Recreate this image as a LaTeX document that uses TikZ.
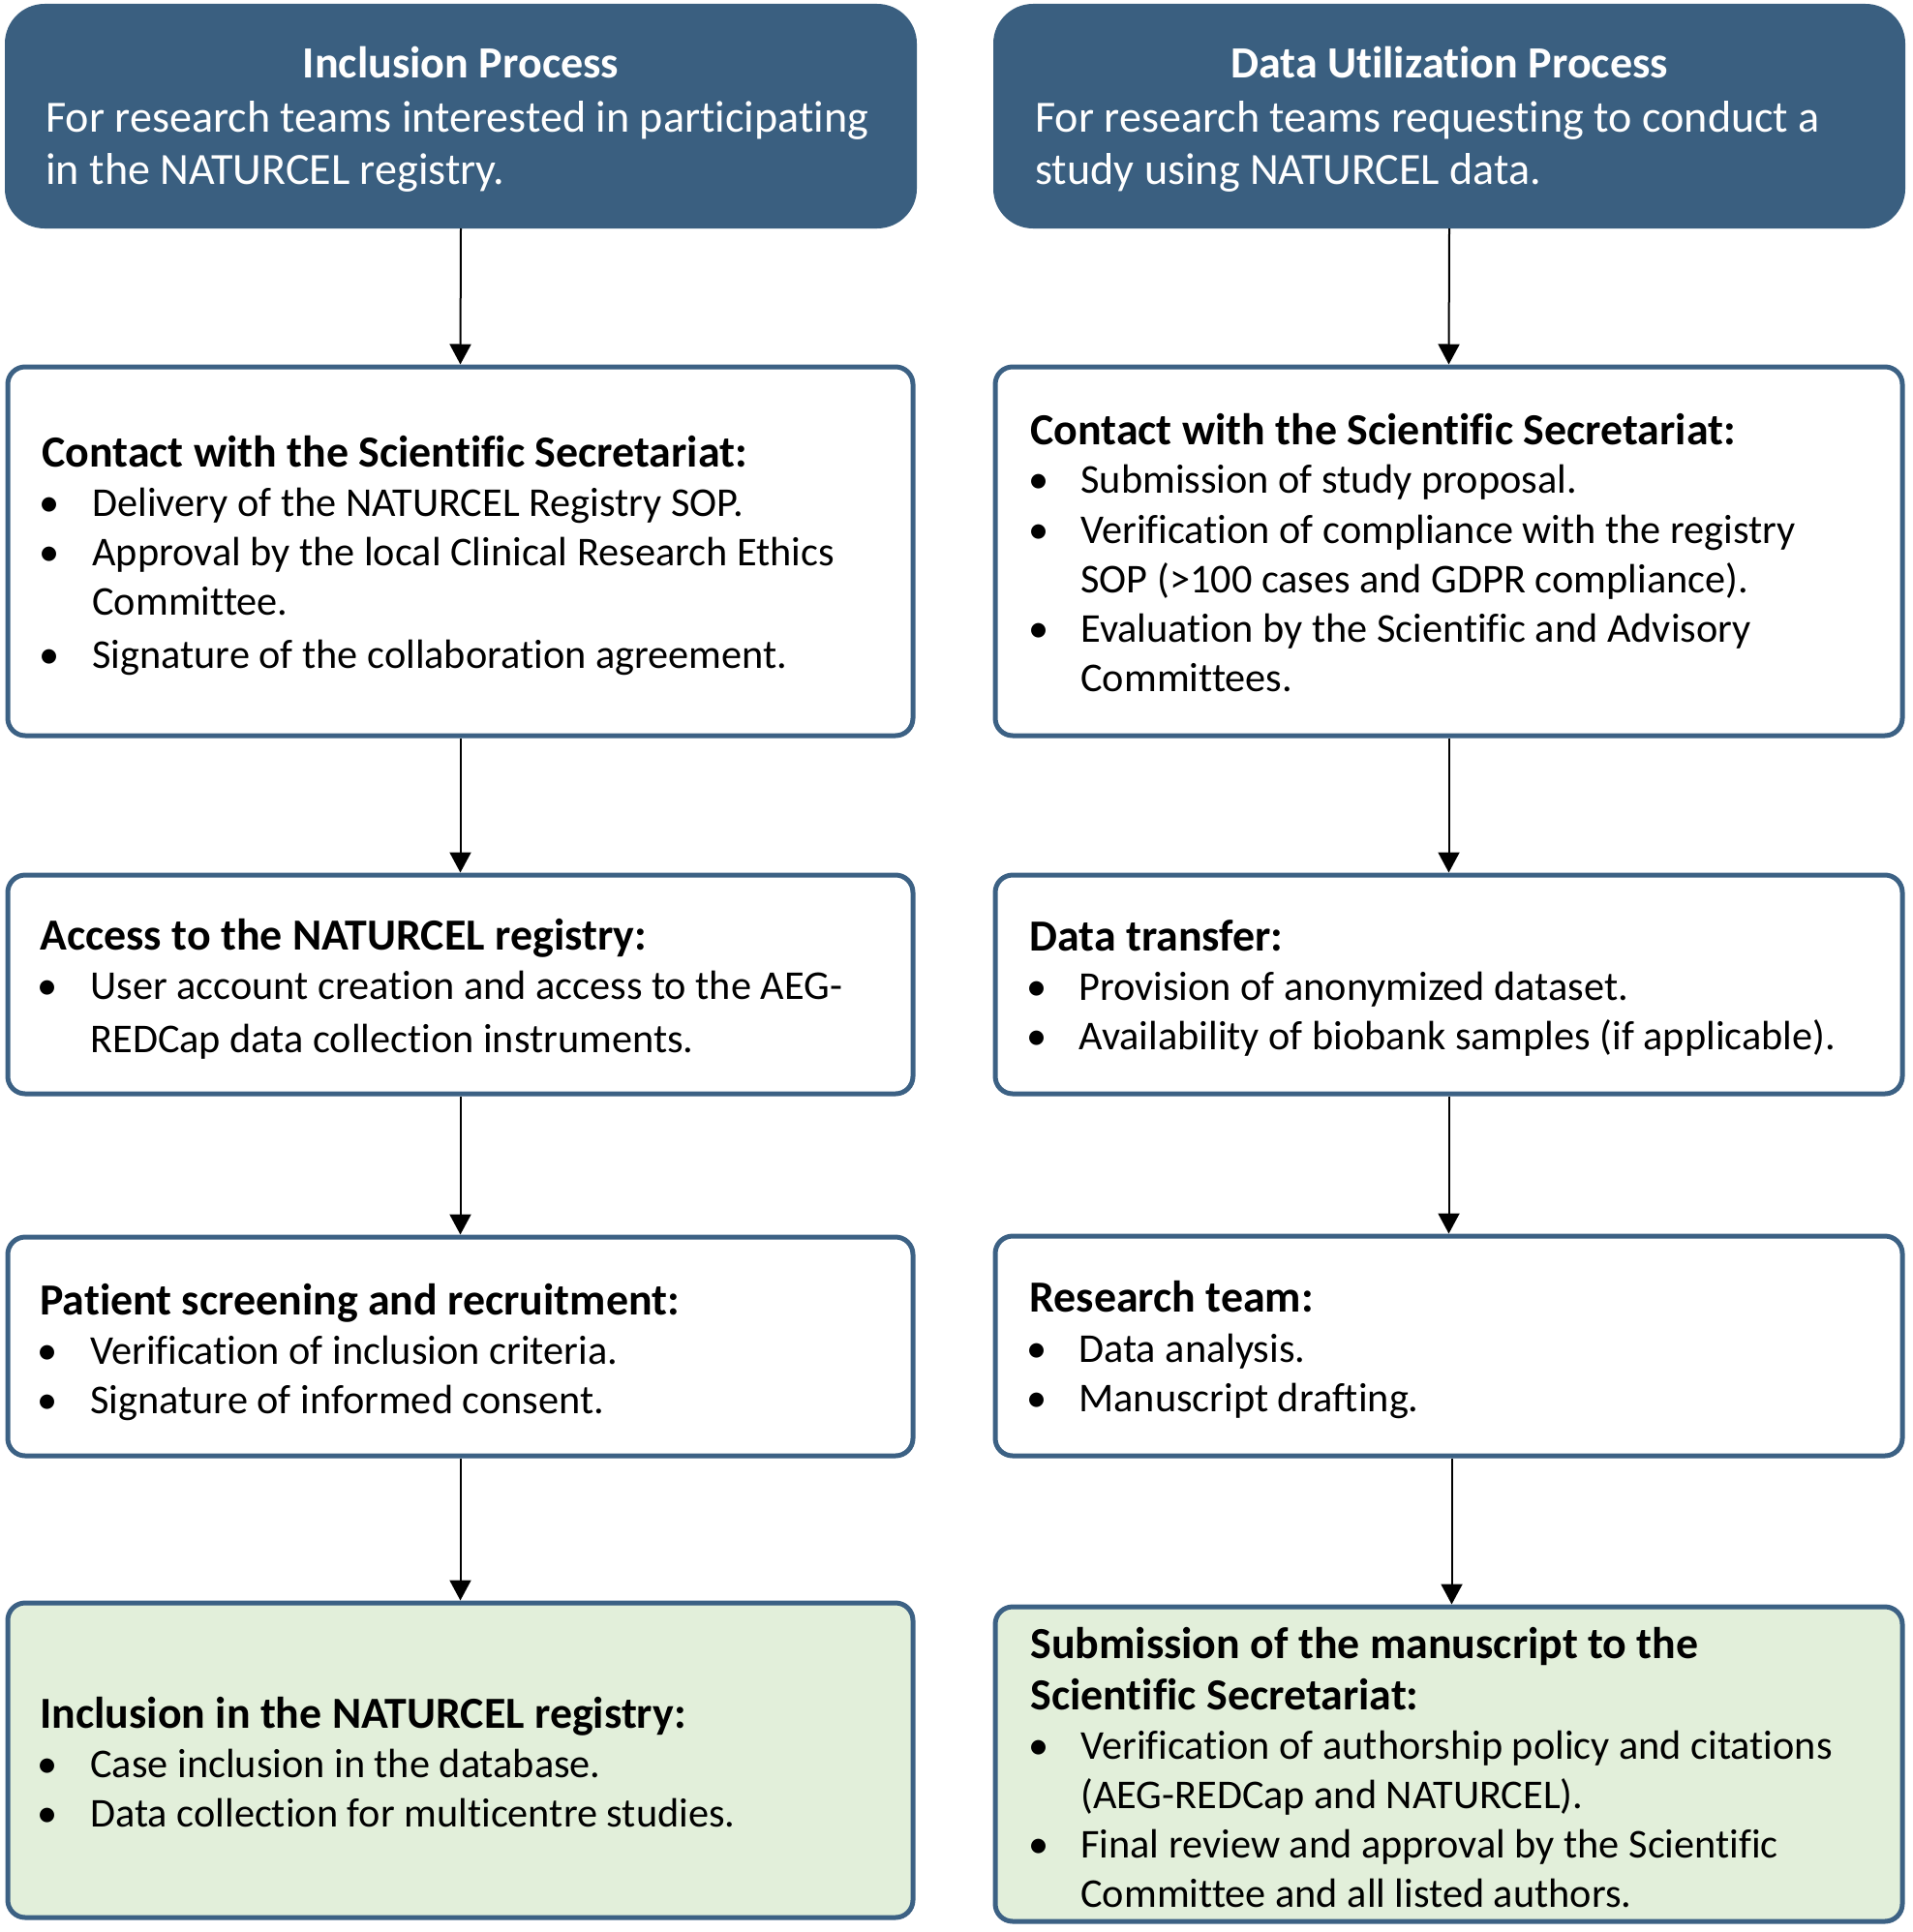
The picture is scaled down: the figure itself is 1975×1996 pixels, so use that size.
\documentclass[tikz,border=0pt]{standalone}
\usepackage{fontspec}
\setmainfont{Carlito}[Ligatures=NoCommon]
\usetikzlibrary{arrows.meta}
\definecolor{hdrfill}{HTML}{3A5F80}
\definecolor{bordc}{HTML}{3C6184}
\definecolor{greenfill}{HTML}{E2EFDA}
\tikzset{
  hdrbox/.style={rectangle, rounded corners=20pt, fill=hdrfill, draw=hdrfill, line width=1pt},
  stepbox/.style={rectangle, rounded corners=9pt, draw=bordc, line width=2.5pt, fill=white},
  endbox/.style={stepbox, fill=greenfill},
  body/.style={anchor=base west, inner sep=0pt, font=\fontsize{21.15}{25}\selectfont},
  ttl/.style={anchor=base west, inner sep=0pt, font=\fontsize{22.95}{27}\selectfont\bfseries},
  hdrtxt/.style={anchor=base west, inner sep=0pt, text=white, font=\fontsize{23.05}{27}\selectfont},
  hdrttl/.style={anchor=base, inner sep=0pt, text=white, font=\fontsize{23.05}{27}\selectfont\bfseries},
  arr/.style={line width=1pt, -{Triangle[length=10.5pt,width=11pt]}}
}
\begin{document}
\begin{tikzpicture}[x=0.5pt,y=-0.5pt]
\useasboundingbox (0,0) rectangle (1975,1996);
% boxes
\node[hdrbox, minimum width=470pt, minimum height=115pt] (LH) at (476,120) {};
\node[hdrbox, minimum width=470pt, minimum height=115pt] (RH) at (1497,120) {};
\node[stepbox, minimum width=467.5pt, minimum height=190.5pt] (L1) at (475.5,569.5) {};
\node[stepbox, minimum width=467.5pt, minimum height=113pt] (L2) at (475.5,1017) {};
\node[stepbox, minimum width=467.5pt, minimum height=113pt] (L3) at (475.5,1391) {};
\node[endbox, minimum width=467.5pt, minimum height=162.5pt] (L4) at (475.5,1818.5) {};
\node[stepbox, minimum width=468.5pt, minimum height=190.5pt] (R1) at (1496.5,569.5) {};
\node[stepbox, minimum width=468.5pt, minimum height=113pt] (R2) at (1496.5,1017) {};
\node[stepbox, minimum width=468.5pt, minimum height=113.5pt] (R3) at (1496.5,1390.5) {};
\node[endbox, minimum width=468.5pt, minimum height=162.5pt] (R4) at (1496.5,1822.5) {};
% arrows
\draw[arr] (LH.south) -- (L1.north);
\draw[arr] (L1.south) -- (L2.north);
\draw[arr] (L2.south) -- (L3.north);
\draw[arr] (L3.south) -- (L4.north);
\draw[arr] (RH.south) -- (R1.north);
\draw[arr] (R1.south) -- (R2.north);
\draw[arr] (R2.south) -- (R3.north);
\draw[arr] ([xshift=1.5pt]R3.south) -- ([xshift=1.5pt]R4.north);
% header texts
\node[hdrttl] (lht) at (476,81) {Inclusion Process};
\node[hdrtxt] (lh1) at (47,136) {For research teams interested in participating};
\node[hdrtxt] (lh2) at (47,191) {in the NATURCEL registry.};
\node[hdrttl] (rht) at (1497,81) {Data Utilization Process};
\node[hdrtxt] (rh1) at (1069,136) {For research teams requesting to conduct a};
\node[hdrtxt] (rh2) at (1069,191) {study using NATURCEL data.};
% L1
\node[ttl] (l1t) at (43,482) {Contact with the Scientific Secretariat:};
\node[body] (l1b1) at (40,533) {\textbullet};
\node[body] (l1x1) at (95,533) {Delivery of the NATURCEL Registry SOP.};
\node[body] (l1b2) at (40,584) {\textbullet};
\node[body] (l1x2) at (95,584) {Approval by the local Clinical Research Ethics};
\node[body] (l1x2c) at (95,635) {Committee.};
\node[body] (l1b3) at (40,690) {\textbullet};
\node[body] (l1x3) at (95,690) {Signature of the collaboration agreement.};
% L2
\node[ttl] (l2t) at (41,981) {Access to the NATURCEL registry:};
\node[body] (l2b1) at (38,1032) {\textbullet};
\node[body] (l2x1) at (93,1032) {User account creation and access to the AEG-};
\node[body] (l2x1c) at (93,1087) {REDCap data collection instruments.};
% L3
\node[ttl] (l3t) at (41,1358) {Patient screening and recruitment:};
\node[body] (l3b1) at (38,1409) {\textbullet};
\node[body] (l3x1) at (93,1409) {Verification of inclusion criteria.};
\node[body] (l3b2) at (38,1460) {\textbullet};
\node[body] (l3x2) at (93,1460) {Signature of informed consent.};
% L4
\node[ttl] (l4t) at (41,1785) {Inclusion in the NATURCEL registry:};
\node[body] (l4b1) at (38,1836) {\textbullet};
\node[body] (l4x1) at (93,1836) {Case inclusion in the database.};
\node[body] (l4b2) at (38,1887) {\textbullet};
\node[body] (l4x2) at (93,1887) {Data collection for multicentre studies.};
% R1
\node[ttl] (r1t) at (1064,459) {Contact with the Scientific Secretariat:};
\node[body] (r1b1) at (1062,509) {\textbullet};
\node[body] (r1x1) at (1116,509) {Submission of study proposal.};
\node[body] (r1b2) at (1062,561) {\textbullet};
\node[body] (r1x2) at (1116,561) {Verification of compliance with the registry};
\node[body] (r1x2c) at (1116,612) {SOP (>100 cases and GDPR compliance).};
\node[body] (r1b3) at (1062,663) {\textbullet};
\node[body] (r1x3) at (1116,663) {Evaluation by the Scientific and Advisory};
\node[body] (r1x3c) at (1116,714) {Committees.};
% R2
\node[ttl] (r2t) at (1063,982) {Data transfer:};
\node[body] (r2b1) at (1060,1033) {\textbullet};
\node[body] (r2x1) at (1114,1033) {Provision of anonymized dataset.};
\node[body] (r2b2) at (1060,1084) {\textbullet};
\node[body] (r2x2) at (1114,1084) {Availability of biobank samples (if applicable).};
% R3
\node[ttl] (r3t) at (1063,1355) {Research team:};
\node[body] (r3b1) at (1060,1407) {\textbullet};
\node[body] (r3x1) at (1114,1407) {Data analysis.};
\node[body] (r3b2) at (1060,1458) {\textbullet};
\node[body] (r3x2) at (1114,1458) {Manuscript drafting.};
% R4
\node[ttl] (r4t) at (1064,1713) {Submission of the manuscript to the};
\node[ttl] (r4tc) at (1064,1766) {Scientific Secretariat:};
\node[body] (r4b1) at (1062,1817) {\textbullet};
\node[body] (r4x1) at (1116,1817) {Verification of authorship policy and citations};
\node[body] (r4x1c) at (1116,1868) {(AEG-REDCap and NATURCEL).};
\node[body] (r4b2) at (1062,1919) {\textbullet};
\node[body] (r4x2) at (1116,1919) {Final review and approval by the Scientific};
\node[body] (r4x2c) at (1116,1970) {Committee and all listed authors.};
\end{tikzpicture}
\end{document}
